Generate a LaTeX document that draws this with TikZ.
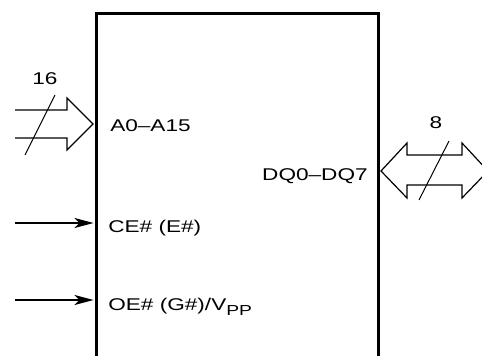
\documentclass[tikz,border=0pt]{standalone}
\usepackage{fontspec}
\setmainfont{Liberation Sans}
\usetikzlibrary{arrows.meta,calc}
\begin{document}
\begin{tikzpicture}[x=1pt,y=-1pt,
    lbl/.style={font=\fontsize{17}{19}\selectfont, inner sep=0pt, xscale=1.33},
    chipbox/.style={draw, line width=3pt, minimum width=282pt, minimum height=420pt,
              inner sep=0pt, anchor=north west},
    sig/.style={line width=1.8pt, shorten >=1.5pt, -{Stealth[length=19pt,width=10pt,inset=5pt]}},
    bus/.style={line width=1.2pt, line join=miter},
    tick/.style={line width=1pt}]
\useasboundingbox (0,0) rectangle (482,356);
\node[chipbox] (chip) at (95,12) {};
\node[lbl, anchor=base west] (addr) at (110,131) {A0--A15};
\node[lbl, anchor=base west] (ce) at (108,232) {CE\# (E\#)};
\node[lbl, anchor=base west] (oe) at (108,310) {OE\# (G\#)/V\raisebox{-5pt}{\fontsize{14.5}{15}\selectfont PP}};
\node[lbl, anchor=base east] (dq) at (368,180) {DQ0--DQ7};
\node[lbl, anchor=base] (n16) at (45,84) {16};
\node[lbl, anchor=base] (n8) at (436,128) {8};
\coordinate (cein) at (15,223);
\coordinate (oein) at (15,300);
\draw[sig] (cein) -- (cein -| chip.west);
\draw[sig] (oein) -- (oein -| chip.west);
\coordinate (atip) at (93,124);
\draw[bus] ($(atip)+(-78,-14)$) -- ++(52,0) -- ++(0,-12) -- (atip) -- ++(-26,26) -- ++(0,-12) -- ++(-52,0);
\draw[tick] (25,155) -- (55,95);
\coordinate (dtip) at (381,171);
\draw[bus] (dtip) -- ++(26,-28) -- ++(0,12) -- ++(55,0) -- ++(0,-12) -- ++(26,28)
    -- ++(-26,27) -- ++(0,-13) -- ++(-55,0) -- ++(0,13) -- cycle;
\draw[tick] (419,200) -- (449,141);
\end{tikzpicture}
\end{document}
